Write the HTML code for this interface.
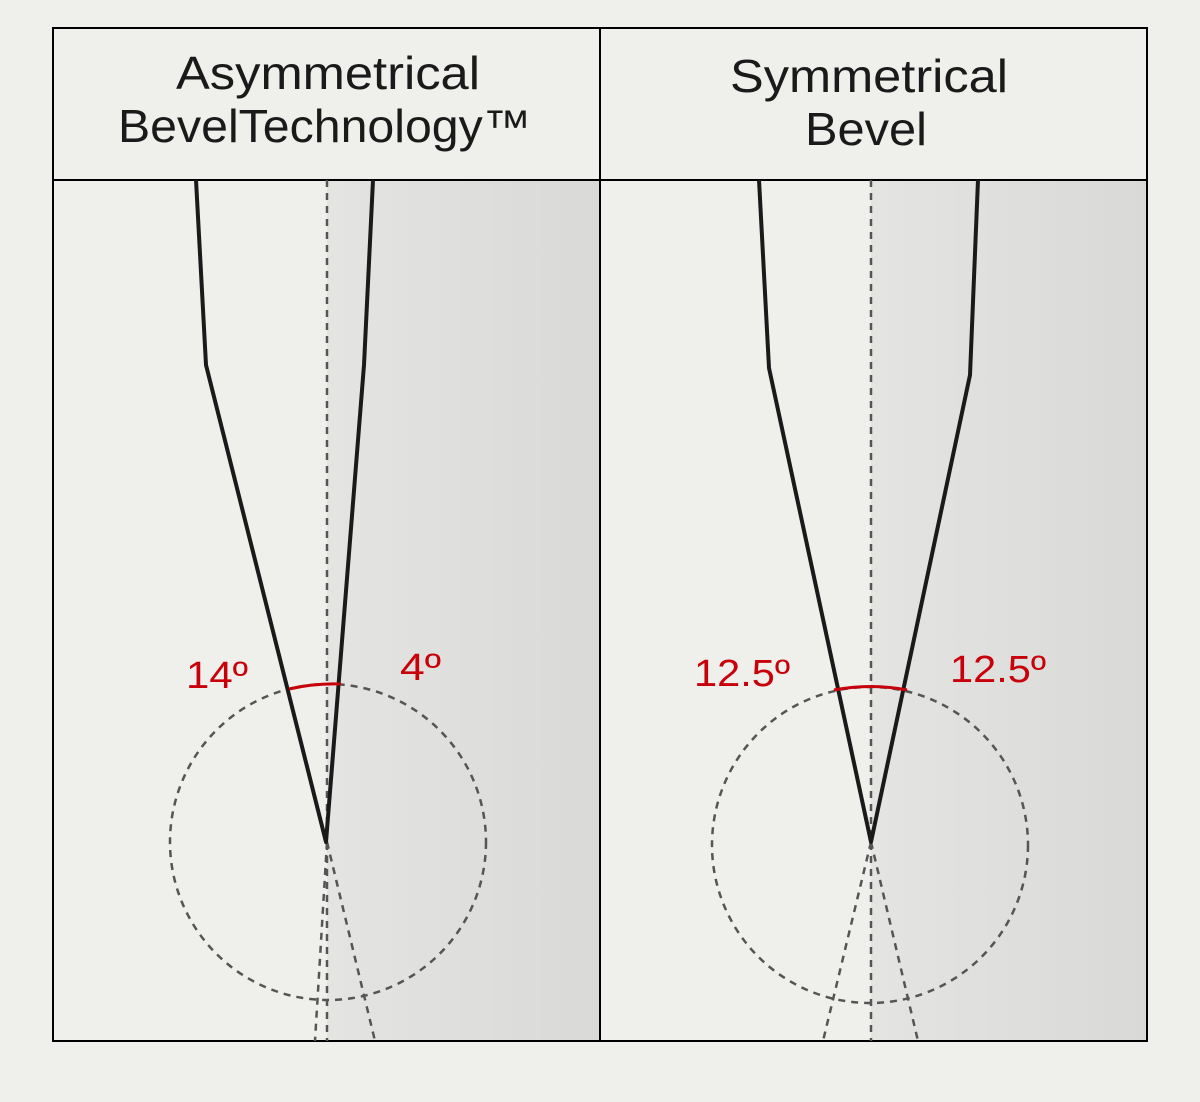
<!DOCTYPE html>
<html><head><meta charset="utf-8"><style>
html,body{margin:0;padding:0;background:#efefec;}
svg{display:block}
</style></head><body>
<svg width="1200" height="1102" viewBox="0 0 1200 1102" xmlns="http://www.w3.org/2000/svg">
<defs>
<linearGradient id="g" x1="0" x2="1" y1="0" y2="0">
<stop offset="0" stop-color="#e4e4e2"/><stop offset="1" stop-color="#d9d9d7"/>
</linearGradient>
</defs>
<rect width="1200" height="1102" fill="#efefec"/>
<rect x="53" y="28" width="1094" height="1013" fill="#efefec"/>
<rect x="327" y="180" width="273" height="861" fill="url(#g)"/>
<rect x="871" y="180" width="276" height="861" fill="url(#g)"/>
<g fill="none" stroke="#000" stroke-width="2">
<rect x="53" y="28" width="1094" height="1013"/>
<line x1="600" y1="28" x2="600" y2="1041"/>
<line x1="53" y1="180" x2="1147" y2="180"/>
</g>
<g font-family="Liberation Sans, sans-serif" font-size="46" fill="#1a1a1a">
<text x="176" y="89" textLength="304" lengthAdjust="spacingAndGlyphs">Asymmetrical</text>
<text x="118" y="142" textLength="413" lengthAdjust="spacingAndGlyphs">BevelTechnology™</text>
<text x="730" y="92" textLength="278" lengthAdjust="spacingAndGlyphs">Symmetrical</text>
<text x="805" y="145" textLength="122" lengthAdjust="spacingAndGlyphs">Bevel</text>
</g>
<g fill="none" stroke="#555" stroke-width="2.5" stroke-dasharray="7,6">
<line x1="327" y1="180" x2="327" y2="1041"/>
<circle cx="328" cy="842" r="158"/>
<line x1="327" y1="842" x2="375" y2="1041"/>
<line x1="327" y1="842" x2="315" y2="1041"/>
<line x1="871" y1="180" x2="871" y2="1041"/>
<circle cx="870" cy="845" r="158"/>
<line x1="871" y1="842" x2="823" y2="1041"/>
<line x1="871" y1="842" x2="918" y2="1041"/>
</g>
<g fill="none" stroke="#1a1a1a" stroke-width="4" stroke-linejoin="round">
<polyline points="196,180 206,365 326,842 364,365 373,180"/>
<polyline points="759,180 769,368 871,842 970,375 978,180"/>
</g>
<g fill="none" stroke="#c8000a" stroke-width="3">
<path d="M289,689 Q315,683 341,684"/>
<path d="M834,690 Q871,683 907,690"/>
</g>
<g font-family="Liberation Sans, sans-serif" font-size="38" fill="#c8000a">
<text x="186" y="688" textLength="62" lengthAdjust="spacingAndGlyphs">14º</text>
<text x="400" y="680" textLength="41" lengthAdjust="spacingAndGlyphs">4º</text>
<text x="694" y="686" textLength="96" lengthAdjust="spacingAndGlyphs">12.5º</text>
<text x="950" y="682" textLength="96" lengthAdjust="spacingAndGlyphs">12.5º</text>
</g>
</svg>
</body></html>
